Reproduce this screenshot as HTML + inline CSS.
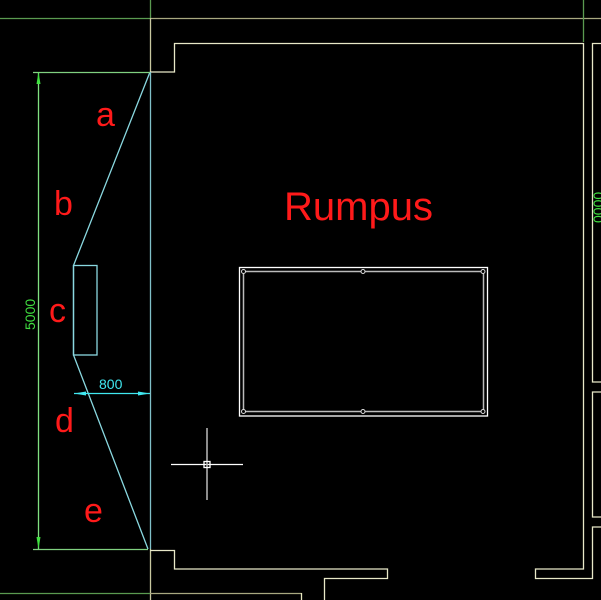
<!DOCTYPE html>
<html><head><style>body{margin:0;background:#000}svg{display:block}</style></head>
<body>
<svg width="601" height="600" viewBox="0 0 601 600" xmlns="http://www.w3.org/2000/svg">
<rect width="601" height="600" fill="#000"/>
<g fill="none" stroke-width="1.3">
<line x1="0" y1="18.5" x2="150" y2="18.5" stroke="#5a9a50"/>
<line x1="150" y1="18.5" x2="601" y2="18.5" stroke="#a8a880"/>
<line x1="150.5" y1="0" x2="150.5" y2="18" stroke="#5a9a50"/>
<line x1="583.5" y1="0" x2="583.5" y2="42" stroke="#5a9a50"/>
<line x1="150.5" y1="18" x2="150.5" y2="72" stroke="#c8c8a0"/>
<line x1="150.5" y1="549" x2="150.5" y2="600" stroke="#c8c8a0"/>
<line x1="0" y1="593.5" x2="150" y2="593.5" stroke="#5a9a50"/>
<line x1="150" y1="593.5" x2="301.5" y2="593.5" stroke="#a8a880"/>
<line x1="301.5" y1="593" x2="301.5" y2="600" stroke="#e8e8c0"/>
<polyline points="150,72 174.5,72 174.5,43.5 583.5,43.5 583.5,569 535.5,569 535.5,578.5 592.5,578.5 592.5,527 601,527" stroke="#e8e8c8"/>
<polyline points="601,43.5 592.5,43.5 592.5,382 601,382" stroke="#e8e8c8"/>
<polyline points="601,392 592.5,392 592.5,517 601,517" stroke="#e8e8c8"/>
<polyline points="150,550.5 174.5,550.5 174.5,569 387.5,569 387.5,578.5 324.5,578.5 324.5,600" stroke="#e8e8c8"/>
<line x1="150.5" y1="72" x2="150.5" y2="549" stroke="#80c0c8"/>
<polyline points="150,72 73.5,265.5 73.5,355 148,549" stroke="#8ad8e0"/>
<rect x="73.5" y="265.5" width="23.5" height="89.5" stroke="#8ad8e0"/>
<line x1="74" y1="393.5" x2="150" y2="393.5" stroke="#40e8f0"/>
<line x1="33" y1="72.5" x2="150" y2="72.5" stroke="#80d080"/>
<line x1="33" y1="549.5" x2="148" y2="549.5" stroke="#80d080"/>
<line x1="38.5" y1="72" x2="38.5" y2="549" stroke="#80e080"/>
<rect x="239.5" y="267.5" width="248" height="148.5" stroke="#fff"/>
<rect x="243.5" y="271.5" width="240" height="140" stroke="#bbb" stroke-width="1.5"/>
<line x1="171" y1="464.5" x2="243" y2="464.5" stroke="#fff"/>
<line x1="207" y1="428" x2="207" y2="500" stroke="#bbb" stroke-width="1.5"/>
<rect x="204" y="461.5" width="6" height="6" stroke="#fff"/>
</g>
<g fill="#000" stroke="#ddd" stroke-width="1">
<circle cx="243.5" cy="271.5" r="2"/><circle cx="363" cy="271.5" r="2"/><circle cx="483" cy="271.5" r="2"/>
<circle cx="243.5" cy="411.5" r="2"/><circle cx="363" cy="411.5" r="2"/><circle cx="483" cy="411.5" r="2"/>
</g>
<polygon points="38.5,72 36.5,84 40.5,84" fill="#40e040"/>
<polygon points="38.5,549 36.5,537 40.5,537" fill="#40e040"/>
<polygon points="74,393.5 86,391.5 86,395.5" fill="#40e8f0"/>
<polygon points="150,393.5 138,391.5 138,395.5" fill="#40e8f0"/>
<g font-family="Liberation Sans, sans-serif">
<text x="284" y="220" font-size="40" fill="#ff1a1a">Rumpus</text>
<g font-size="34" fill="#ff1a1a">
<text x="96" y="126">a</text>
<text x="54" y="215">b</text>
<text x="49" y="322">c</text>
<text x="55" y="432">d</text>
<text x="84" y="522">e</text>
</g>
<text x="99" y="389" font-size="14" fill="#40e8f0">800</text>
<text transform="translate(35,330) rotate(-90)" font-size="14" fill="#40e040">5000</text>
<text transform="translate(603,223) rotate(-90)" font-size="14" fill="#40e040">0000</text>
</g>
</svg>
</body></html>
